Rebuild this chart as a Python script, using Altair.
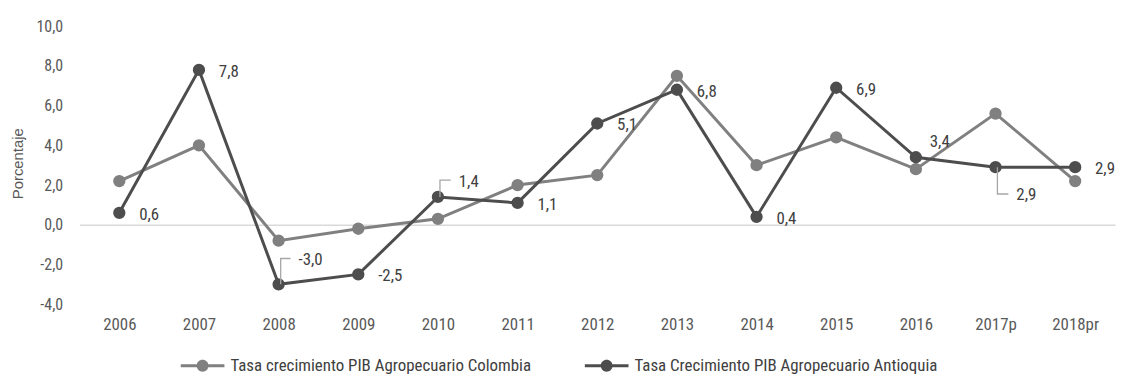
import altair as alt
import pandas as pd

# ---- data ----
years = ["2006", "2007", "2008", "2009", "2010", "2011", "2012", "2013",
         "2014", "2015", "2016", "2017p", "2018pr"]
colombia = [2.2, 4.0, -0.8, -0.2, 0.3, 2.0, 2.5, 7.5, 3.0, 4.4, 2.8, 5.6, 2.2]
antioquia = [0.6, 7.8, -3.0, -2.5, 1.4, 1.1, 5.1, 6.8, 0.4, 6.9, 3.4, 2.9, 2.9]
# where the Antioquia value label sits relative to its point
label_pos = ["right", "right", "upper", "right", "up", "right", "right",
             "right", "right", "right", "upleft", "below", "right"]
series_names = ["Tasa crecimiento PIB Agropecuario Colombia",
                "Tasa Crecimiento PIB Agropecuario Antioquia"]
series_colors = ["#808080", "#4d4d4d"]
y_ticks = [-4, -2, 0, 2, 4, 6, 8, 10]

rows = []
for i, yr in enumerate(years):
    rows.append({"year": yr, "serie": series_names[0], "valor": colombia[i], "pos": "none"})
    rows.append({"year": yr, "serie": series_names[1], "valor": antioquia[i], "pos": label_pos[i]})
df = pd.DataFrame(rows)

FONT = "Roboto Condensed, Liberation Sans Narrow, Liberation Sans, Arial, sans-serif"
TXT = "#404040"
AX = "#595959"
LEADER = "#a6a6a6"

fmt = "replace(replace(format({v}, '.1f'), '.', ','), '\u2212', '-')"

x = alt.X("year:N", sort=years, scale=alt.Scale(type="point", padding=0.5),
          axis=alt.Axis(title=None, labelAngle=0, domain=False, ticks=False,
                        grid=False, labelPadding=12, labelFontSize=17,
                        labelFont=FONT, labelColor=AX, labelOverlap=False))
y = alt.Y("valor:Q", scale=alt.Scale(domain=[-4, 10], nice=False, zero=False),
          axis=alt.Axis(values=y_ticks, labelExpr=fmt.format(v="datum.value"),
                        title="Porcentaje", domain=False, ticks=False,
                        grid=True, gridColor="#d9d9d9", gridWidth=1.5,
                        gridOpacity={"condition": {"test": "datum.value === 0", "value": 1},
                                     "value": 0},
                        labelPadding=17, labelFontSize=16, labelFont=FONT,
                        labelColor=AX, labelOverlap=False,
                        titleFont="Liberation Sans, Arial, sans-serif",
                        titleFontSize=15, titleFontWeight="normal",
                        titleColor=AX, titleAngle=-90, titleX=-62, titleY=138,
                        titleBaseline="middle", titleAlign="center"))

color_scale = alt.Scale(domain=series_names, range=series_colors)

LEGEND_PATH = ("M-1,-0.07 L1,-0.07 L1,0.07 L-1,0.07 Z "
               "M0.27,0 A0.27,0.27 0 1,1 -0.27,0 A0.27,0.27 0 1,1 0.27,0 Z")
legend = alt.Legend(title=None, orient="none", legendX=102, legendY=320,
                    direction="horizontal", columns=2, symbolType=LEGEND_PATH,
                    symbolSize=1936, symbolStrokeWidth=0, labelFont=FONT,
                    labelFontSize=17, labelColor=TXT, labelOffset=6, labelLimit=0,
                    columnPadding=53, padding=0, rowPadding=0)

base = alt.Chart(df)

layers = []
for name, col in zip(series_names, series_colors):
    f = base.transform_filter(alt.datum.serie == name)
    layers.append(f.mark_line(strokeWidth=3, color=col).encode(x=x, y=y))
    layers.append(f.mark_point(filled=True, size=154, opacity=1, strokeWidth=0).encode(
        x=x, y=y, color=alt.Color("serie:N", scale=color_scale, legend=legend)))

label_styles = {
    "right": dict(dx=20, dy=2),
    "upper": dict(dx=20, dy=-24),
    "up": dict(dx=21, dy=-15),
    "upleft": dict(dx=14, dy=-15),
    "below": dict(dx=21, dy=28),
}
leader_styles = {
    "upper": dict(shape="M0.08,0 L0.08,-1 L0.46,-1", size=2704),
    "up": dict(shape="M0.12,0 L0.12,-1 L0.76,-1", size=1156),
    "below": dict(shape="M0.07,0 L0.07,1 L0.48,1", size=2916),
}

for p, st in leader_styles.items():
    layers.append(base.transform_filter(
        (alt.datum.serie == series_names[1]) & (alt.datum.pos == p)
    ).mark_point(shape=st["shape"], size=st["size"], filled=False, opacity=1,
                 strokeWidth=1.3, color=LEADER).encode(x=x, y=y))

for p, st in label_styles.items():
    layers.append(base.transform_filter(
        (alt.datum.serie == series_names[1]) & (alt.datum.pos == p)
    ).transform_calculate(lbl=fmt.format(v="datum.valor")).mark_text(
        align="left", baseline="middle", dx=st["dx"], dy=st["dy"],
        fontSize=17, font=FONT, color=TXT).encode(x=x, y=y, text="lbl:N"))

chart = alt.layer(*layers).properties(
    width=1043, height=280,
    padding={"left": 72, "top": 17, "right": 1, "bottom": 70},
    autosize="none", background="white",
).configure_view(stroke=None)

chart.save("out.html", embed_options={"renderer": "svg", "actions": False})
